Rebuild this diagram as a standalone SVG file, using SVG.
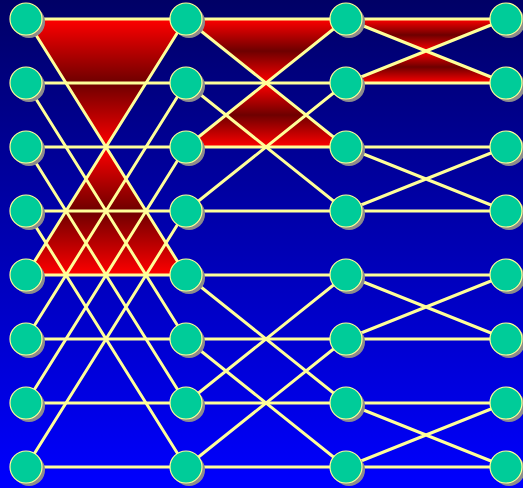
<svg xmlns="http://www.w3.org/2000/svg" width="523" height="488" viewBox="0 0 523 488">
<defs>
<linearGradient id="bg" x1="0" y1="0" x2="0" y2="1">
<stop offset="0" stop-color="#000066"/>
<stop offset="1" stop-color="#0000FF"/>
</linearGradient>
<linearGradient id="red" x1="0" y1="0" x2="0" y2="1">
<stop offset="0" stop-color="#FF0000"/>
<stop offset="0.5" stop-color="#6E0000"/>
<stop offset="1" stop-color="#FF0000"/>
</linearGradient>
</defs>
<style>
.tri{fill:url(#red)}
.ln{stroke:#FFFF99;stroke-width:3;fill:none;stroke-linecap:round}
.sh{fill:#8C8C8C}
.nd{fill:#00CC99;stroke:#FFFF99;stroke-width:1.2}
</style>
<rect x="0" y="0" width="523" height="488" fill="url(#bg)"/>
<g id="highlights">
<polygon class="tri" points="26,19 186,19 106,147"/>
<polygon class="tri" points="106,147 186,275 26,275"/>
<polygon class="tri" points="186,19 346,19 266,83"/>
<polygon class="tri" points="266,83 346,147 186,147"/>
<polygon class="tri" points="346,19 506,19 426,51"/>
<polygon class="tri" points="426,51 506,83 346,83"/>
</g>
<g id="connectors" class="ln">
<!-- horizontals -->
<path d="M26,19H506M26,83H506M26,147H506M26,211H506M26,275H506M26,339H506M26,403H506M26,467H506"/>
<!-- stage 1 -->
<path d="M26,19L186,275M26,275L186,19M26,83L186,339M26,339L186,83M26,147L186,403M26,403L186,147M26,211L186,467M26,467L186,211"/>
<!-- stage 2 -->
<path d="M186,19L346,147M186,147L346,19M186,83L346,211M186,211L346,83M186,275L346,403M186,403L346,275M186,339L346,467M186,467L346,339"/>
<!-- stage 3 -->
<path d="M346,19L506,83M346,83L506,19M346,147L506,211M346,211L506,147M346,275L506,339M346,339L506,275M346,403L506,467M346,467L506,403"/>
</g>
<g id="n0_0"><circle class="sh" cx="29" cy="22" r="16"/><circle class="nd" cx="26" cy="19" r="16"/></g>
<g id="n0_1"><circle class="sh" cx="29" cy="86" r="16"/><circle class="nd" cx="26" cy="83" r="16"/></g>
<g id="n0_2"><circle class="sh" cx="29" cy="150" r="16"/><circle class="nd" cx="26" cy="147" r="16"/></g>
<g id="n0_3"><circle class="sh" cx="29" cy="214" r="16"/><circle class="nd" cx="26" cy="211" r="16"/></g>
<g id="n0_4"><circle class="sh" cx="29" cy="278" r="16"/><circle class="nd" cx="26" cy="275" r="16"/></g>
<g id="n0_5"><circle class="sh" cx="29" cy="342" r="16"/><circle class="nd" cx="26" cy="339" r="16"/></g>
<g id="n0_6"><circle class="sh" cx="29" cy="406" r="16"/><circle class="nd" cx="26" cy="403" r="16"/></g>
<g id="n0_7"><circle class="sh" cx="29" cy="470" r="16"/><circle class="nd" cx="26" cy="467" r="16"/></g>
<g id="n1_0"><circle class="sh" cx="189" cy="22" r="16"/><circle class="nd" cx="186" cy="19" r="16"/></g>
<g id="n1_1"><circle class="sh" cx="189" cy="86" r="16"/><circle class="nd" cx="186" cy="83" r="16"/></g>
<g id="n1_2"><circle class="sh" cx="189" cy="150" r="16"/><circle class="nd" cx="186" cy="147" r="16"/></g>
<g id="n1_3"><circle class="sh" cx="189" cy="214" r="16"/><circle class="nd" cx="186" cy="211" r="16"/></g>
<g id="n1_4"><circle class="sh" cx="189" cy="278" r="16"/><circle class="nd" cx="186" cy="275" r="16"/></g>
<g id="n1_5"><circle class="sh" cx="189" cy="342" r="16"/><circle class="nd" cx="186" cy="339" r="16"/></g>
<g id="n1_6"><circle class="sh" cx="189" cy="406" r="16"/><circle class="nd" cx="186" cy="403" r="16"/></g>
<g id="n1_7"><circle class="sh" cx="189" cy="470" r="16"/><circle class="nd" cx="186" cy="467" r="16"/></g>
<g id="n2_0"><circle class="sh" cx="349" cy="22" r="16"/><circle class="nd" cx="346" cy="19" r="16"/></g>
<g id="n2_1"><circle class="sh" cx="349" cy="86" r="16"/><circle class="nd" cx="346" cy="83" r="16"/></g>
<g id="n2_2"><circle class="sh" cx="349" cy="150" r="16"/><circle class="nd" cx="346" cy="147" r="16"/></g>
<g id="n2_3"><circle class="sh" cx="349" cy="214" r="16"/><circle class="nd" cx="346" cy="211" r="16"/></g>
<g id="n2_4"><circle class="sh" cx="349" cy="278" r="16"/><circle class="nd" cx="346" cy="275" r="16"/></g>
<g id="n2_5"><circle class="sh" cx="349" cy="342" r="16"/><circle class="nd" cx="346" cy="339" r="16"/></g>
<g id="n2_6"><circle class="sh" cx="349" cy="406" r="16"/><circle class="nd" cx="346" cy="403" r="16"/></g>
<g id="n2_7"><circle class="sh" cx="349" cy="470" r="16"/><circle class="nd" cx="346" cy="467" r="16"/></g>
<g id="n3_0"><circle class="sh" cx="509" cy="22" r="16"/><circle class="nd" cx="506" cy="19" r="16"/></g>
<g id="n3_1"><circle class="sh" cx="509" cy="86" r="16"/><circle class="nd" cx="506" cy="83" r="16"/></g>
<g id="n3_2"><circle class="sh" cx="509" cy="150" r="16"/><circle class="nd" cx="506" cy="147" r="16"/></g>
<g id="n3_3"><circle class="sh" cx="509" cy="214" r="16"/><circle class="nd" cx="506" cy="211" r="16"/></g>
<g id="n3_4"><circle class="sh" cx="509" cy="278" r="16"/><circle class="nd" cx="506" cy="275" r="16"/></g>
<g id="n3_5"><circle class="sh" cx="509" cy="342" r="16"/><circle class="nd" cx="506" cy="339" r="16"/></g>
<g id="n3_6"><circle class="sh" cx="509" cy="406" r="16"/><circle class="nd" cx="506" cy="403" r="16"/></g>
<g id="n3_7"><circle class="sh" cx="509" cy="470" r="16"/><circle class="nd" cx="506" cy="467" r="16"/></g>
</svg>
